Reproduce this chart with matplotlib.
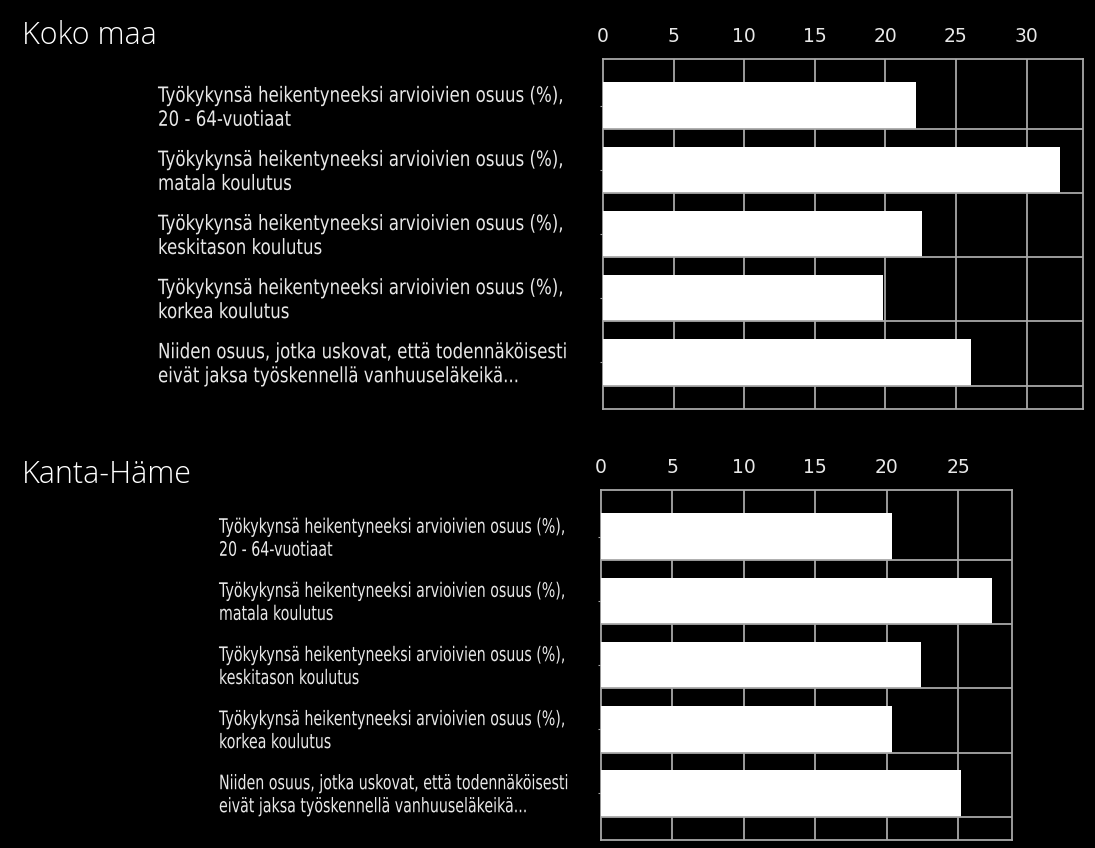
import numpy as np
import matplotlib
matplotlib.use('Agg')
import matplotlib.pyplot as plt
import matplotlib.transforms as mtransforms
from matplotlib.textpath import TextPath
from matplotlib.patches import PathPatch
from matplotlib.font_manager import FontProperties

# category labels (same in both panels)
labels = [
    "Työkykynsä heikentyneeksi arvioivien osuus (%),\n20 - 64-vuotiaat",
    "Työkykynsä heikentyneeksi arvioivien osuus (%),\nmatala koulutus",
    "Työkykynsä heikentyneeksi arvioivien osuus (%),\nkeskitason koulutus",
    "Työkykynsä heikentyneeksi arvioivien osuus (%),\nkorkea koulutus",
    "Niiden osuus, jotka uskovat, että todennäköisesti\neivät jaksa työskennellä vanhuuseläkeikä...",
]

# values
koko_maa = [22.2, 32.4, 22.6, 19.8, 26.1]
kanta_hame = [20.4, 27.4, 22.4, 20.4, 25.2]

titles = ["Koko maa", "Kanta-Häme"]
xticks_top = [0, 5, 10, 15, 20, 25, 30]
xticks_bot = [0, 5, 10, 15, 20, 25]

W, H = 1095, 848
fig = plt.figure(figsize=(W / 100, H / 100), dpi=100, facecolor='black')

grid_col = '#a8a8a8'
txt_col = '#e8e8e8'
fp = FontProperties(family='DejaVu Sans')

# the labels in the picture are narrow and tall: draw them as squeezed paths
ref_w = TextPath((0, 0), labels[0].split('\n')[0], size=1, prop=fp).get_extents().width


def narrow_text(x_px, base_px, s, sx, em_px):
    # x_px, base_px: pixel position from the top-left of the image
    path = TextPath((0, 0), s, size=1, prop=fp)
    tr = mtransforms.Affine2D().scale(sx, em_px).translate(x_px, H - base_px)
    fig.add_artist(PathPatch(path, transform=tr, facecolor=txt_col, edgecolor='none', lw=0))


def panel(rect_px, values, xmax, xticks, title, title_y, label_x, label_w, em_px, pitch):
    left, top, width, bottom = rect_px
    ax = fig.add_axes([left / W, 1 - bottom / H, width / W, (bottom - top) / H])
    ax.set_facecolor('black')
    y = np.arange(len(values))
    h = 0.73
    ax.barh(y, values, height=h, color='white', edgecolor='none', zorder=3)
    ax.set_xlim(0, xmax)
    ax.set_ylim(len(values) - 1 + 0.73, -0.73)
    for t in xticks[1:]:
        ax.axvline(t, color=grid_col, lw=1.3, zorder=1)
    for yy in y:
        ax.axhline(yy + h / 2, color=grid_col, lw=1.3, zorder=4)
    for s in ax.spines.values():
        s.set_color(grid_col)
        s.set_linewidth(1.3)
    ax.xaxis.tick_top()
    ax.set_xticks(xticks)
    ax.set_xticklabels([str(t) for t in xticks], fontsize=13.5, color=txt_col)
    ax.tick_params(axis='x', length=0, pad=9.5)
    ax.set_yticks(y)
    ax.set_yticklabels([])
    ax.tick_params(axis='y', length=2, color=grid_col)
    # pixel height of one category band
    band = (bottom - top) / (len(values) - 1 + 2 * 0.73)
    sx = label_w / ref_w
    for yy, lab in zip(y, labels):
        centre = top + (0.73 + yy) * band
        l1, l2 = lab.split('\n')
        narrow_text(label_x, centre - 4, l1, sx, em_px)
        narrow_text(label_x, centre - 4 + pitch, l2, sx, em_px)
    fig.text(22 / W, 1 - title_y / H, title, ha='left', va='baseline',
             family=['Open Sans', 'DejaVu Sans'], fontweight='light', fontsize=22, color='white')
    return ax


panel((603, 59, 480, 409), koko_maa, 34, xticks_top, titles[0], 44, 158, 404, 21, 24)
panel((600.7, 490, 411, 840), kanta_hame, 28.75, xticks_bot, titles[1], 483, 219, 345, 20, 23)

fig.savefig('out.png', dpi=100, facecolor='black')
